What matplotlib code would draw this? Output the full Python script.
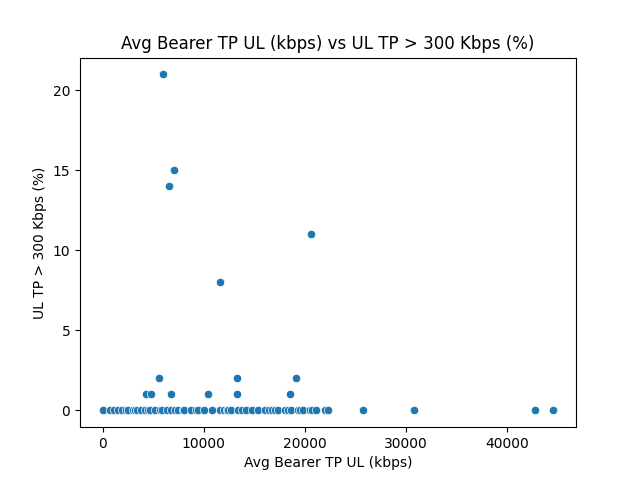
import matplotlib
matplotlib.use("Agg")
import matplotlib.pyplot as plt
import seaborn as sns
import pandas as pd

zero_x = [0, 692, 1088, 1484, 1879, 2275, 2473, 3000, 3165,
          3400, 3758, 4154, 4500, 4648, 5143, 5637, 5835, 6330, 6800, 7121, 7500, 7912,
          8100, 8703, 9200, 9395, 9989, 10780, 11571, 12000, 12263, 12400, 12659, 13351,
          13800, 14142, 14736, 15329, 16021, 16500, 16713, 17100, 17306, 18000, 18300,
          18593, 19285, 19500, 19780, 20472, 20700, 21066, 21956, 22252, 25800, 30800,
          42800, 44600]
nonzero_x = [5935, 7023, 6528, 20574, 11573, 5539, 13254, 19090,
             4253, 4747, 6726, 10416, 13284, 18566]
nonzero_y = [21, 15, 14, 11, 8, 2, 2, 2, 1, 1, 1, 1, 1, 1]

x_vals = zero_x + nonzero_x
y_vals = [0] * len(zero_x) + nonzero_y

df = pd.DataFrame({"Avg Bearer TP UL (kbps)": x_vals, "UL TP > 300 Kbps (%)": y_vals})

fig, ax = plt.subplots(figsize=(6.4, 4.8), dpi=100)
sns.scatterplot(data=df, x="Avg Bearer TP UL (kbps)", y="UL TP > 300 Kbps (%)", ax=ax)
ax.set_title("Avg Bearer TP UL (kbps) vs UL TP > 300 Kbps (%)")
fig.savefig("out.png", dpi=100)
